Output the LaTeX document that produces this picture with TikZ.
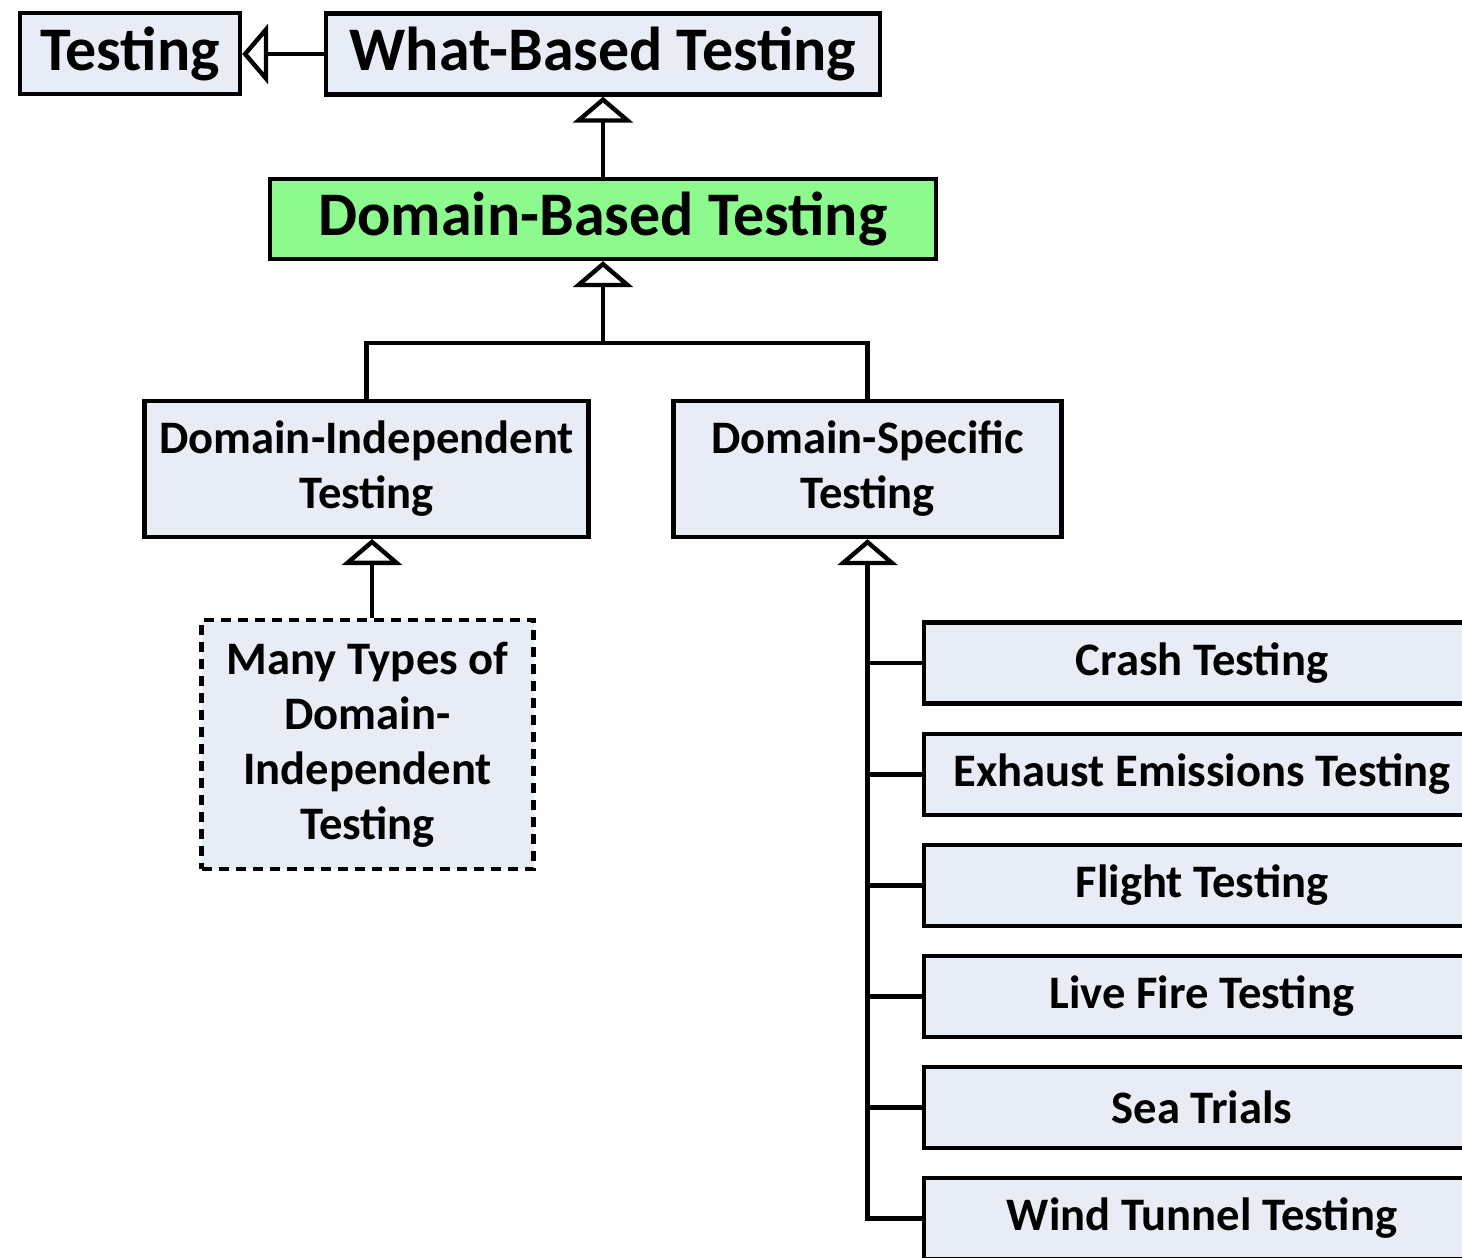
\documentclass[tikz,border=0pt]{standalone}
\usepackage{fontspec}
\setmainfont{Carlito}
\usetikzlibrary{arrows.meta}
\definecolor{boxfill}{RGB}{232,236,244}
\definecolor{greenfill}{RGB}{140,250,140}
\tikzset{
  box/.style={draw, line width=2.2pt, fill=boxfill, align=center, inner sep=0pt, font=\bfseries\fontsize{23.3}{27.5}\selectfont},
  bigbox/.style={box, font=\bfseries\fontsize{31}{36}\selectfont},
  leafbox/.style={box, minimum width=278pt, minimum height=40.5pt},
  inh/.style={line width=2.2pt, -{Triangle[open, length=13pt, width=30pt, line width=2.2pt]}},
  conn/.style={line width=2.2pt}
}
\begin{document}
\begin{tikzpicture}[x=0.5pt,y=-0.5pt]
\useasboundingbox (0,0) rectangle (1462,1258);
\clip (0,0) rectangle (1462,1258);
\node[bigbox, minimum width=110pt, minimum height=40.5pt] (t) at (130,53.5) {Testing};
\node[bigbox, minimum width=277pt, minimum height=40.5pt] (wb) at (603,54) {What-Based Testing};
\node[bigbox, fill=greenfill, minimum width=333pt, minimum height=40pt] (db) at (603,219) {Domain-Based Testing};
\node[box, minimum width=222pt, minimum height=68pt] (di) at (366.5,469) {Domain-Independent\\Testing};
\node[box, minimum width=194pt, minimum height=68pt] (ds) at (867.5,469) {Domain-Specific\\Testing};
\node[box, dashed, dash pattern=on 5pt off 3.5pt, minimum width=166pt, minimum height=124.5pt] (many) at (367.5,744.5) {Many Types of\\Domain-\\Independent\\Testing};
\node[leafbox] (c1) at (1202,663) {Crash Testing};
\node[leafbox] (c2) at (1202,774.5) {Exhaust Emissions Testing};
\node[leafbox] (c3) at (1202,885.5) {Flight Testing};
\node[leafbox] (c4) at (1202,996.5) {Live Fire Testing};
\node[leafbox] (c5) at (1202,1107.5) {Sea Trials};
\node[leafbox] (c6) at (1202,1218.5) {Wind Tunnel Testing};
\coordinate (j) at (603,343);
\coordinate (m) at (372,539);
\draw[inh] (wb.west) -- (wb.west -| t.east);
\draw[inh] (db.north) -- (wb.south);
\draw[conn] (di.north) |- (j) -| (ds.north);
\draw[inh] (j) -- (db.south);
\draw[inh] (many.north -| m) -- (m);
\draw[inh] (c6.west) -| (ds.south);
\foreach \i in {1,...,5}{
  \draw[conn] (c\i.west) -- (c\i.west -| ds.south);
}
\end{tikzpicture}
\end{document}
